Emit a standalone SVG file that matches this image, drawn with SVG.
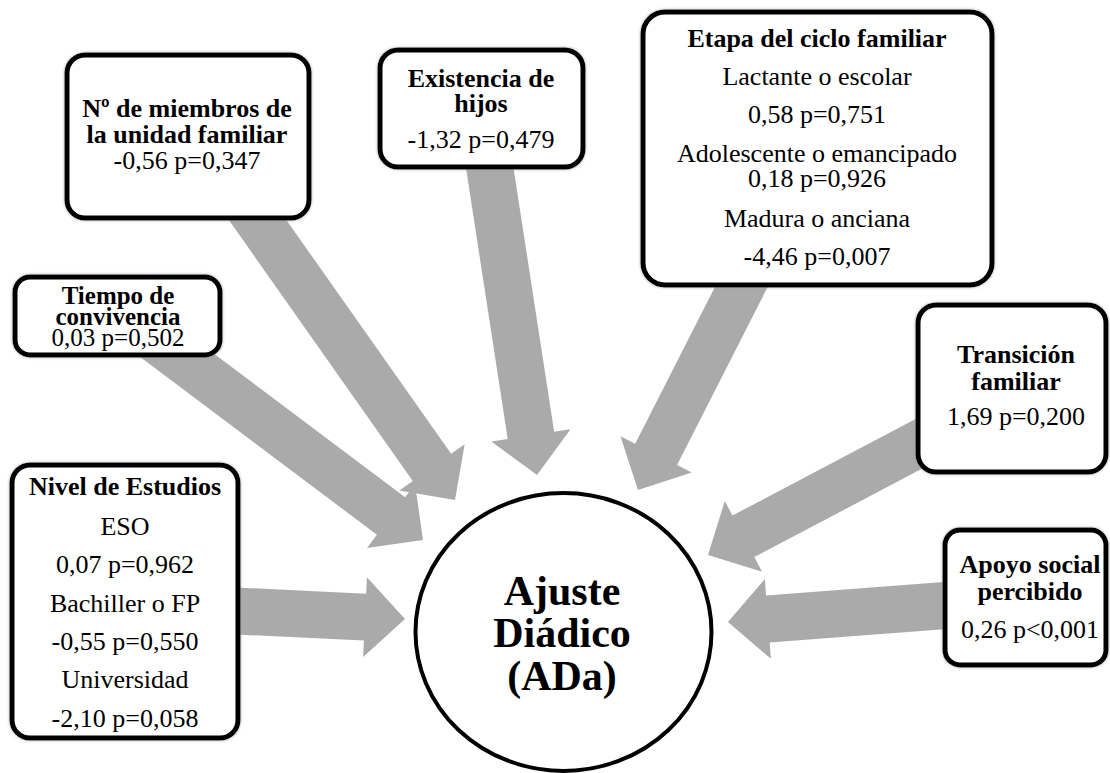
<svg xmlns="http://www.w3.org/2000/svg" width="1110" height="773" viewBox="0 0 1110 773">
<style>
.arrow{fill:#aaaaaa;stroke:none}
.box{fill:#ffffff;stroke:#000000;stroke-width:5;filter:url(#glow)}
.t{font-family:"Liberation Serif","Times New Roman",serif;font-size:26px;fill:#000;text-anchor:middle}
.s{font-size:25px}
.b{font-weight:bold}
.c{font-family:"Liberation Serif","Times New Roman",serif;font-size:42px;font-weight:bold;fill:#000;text-anchor:middle}
</style>
<defs>
<filter id="glow" x="-10%" y="-10%" width="120%" height="120%">
<feDropShadow dx="0" dy="0" stdDeviation="1.5" flood-color="#9a9a9a" flood-opacity="0.8"/>
</filter>
</defs>
<rect width="1110" height="773" fill="#ffffff"/>
<g id="connectors">
<polygon class="arrow" transform="translate(240,195) rotate(54.82)" points="0,-23.5 333.2,-23.5 333.2,-40 373.2,0 333.2,40 333.2,23.5 0,23.5"/>
<polygon class="arrow" transform="translate(130,320) rotate(36.9)" points="0,-23.5 326.4,-23.5 326.4,-40 366.4,0 326.4,40 326.4,23.5 0,23.5"/>
<polygon class="arrow" transform="translate(487,150) rotate(81.25)" points="0,-23.5 288.8,-23.5 288.8,-40 328.8,0 288.8,40 288.8,23.5 0,23.5"/>
<polygon class="arrow" transform="translate(755,260) rotate(116.96)" points="0,-23.5 218.1,-23.5 218.1,-40 258.1,0 218.1,40 218.1,23.5 0,23.5"/>
<polygon class="arrow" transform="translate(945,430) rotate(152.19)" points="0,-23.5 227.9,-23.5 227.9,-40 267.9,0 227.9,40 227.9,23.5 0,23.5"/>
<polygon class="arrow" transform="translate(965,604) rotate(175.66)" points="0,-23.5 197.7,-23.5 197.7,-40 237.7,0 197.7,40 197.7,23.5 0,23.5"/>
<polygon class="arrow" transform="translate(215,610) rotate(2.71)" points="0,-23.5 150.2,-23.5 150.2,-40 190.2,0 150.2,40 150.2,23.5 0,23.5"/>
</g>
<g id="node-miembros">
<rect class="box" x="67" y="55" width="242" height="163" rx="18"/>
<text class="t b" x="187" y="117">Nº de miembros de</text>
<text class="t b" x="187" y="143">la unidad familiar</text>
<text class="t" x="187" y="169">-0,56 p=0,347</text>
</g>
<g id="node-hijos">
<rect class="box" x="380" y="50" width="203" height="117" rx="18"/>
<text class="t b" x="481" y="87">Existencia de</text>
<text class="t b" x="481" y="112">hijos</text>
<text class="t" x="481" y="148">-1,32 p=0,479</text>
</g>
<g id="node-etapa">
<rect class="box" x="643" y="12" width="349" height="273" rx="22"/>
<text class="t b" x="817" y="47">Etapa del ciclo familiar</text>
<text class="t" x="817" y="85">Lactante o escolar</text>
<text class="t" x="817" y="123">0,58 p=0,751</text>
<text class="t" x="817" y="162">Adolescente o emancipado</text>
<text class="t" x="817" y="187">0,18 p=0,926</text>
<text class="t" x="817" y="227">Madura o anciana</text>
<text class="t" x="817" y="265">-4,46 p=0,007</text>
</g>
<g id="node-tiempo">
<rect class="box" x="15" y="277" width="205" height="78" rx="15"/>
<text class="t s b" x="118" y="304">Tiempo de</text>
<text class="t s b" x="118" y="325">convivencia</text>
<text class="t s" x="118" y="346">0,03 p=0,502</text>
</g>
<g id="node-transicion">
<rect class="box" x="918" y="305" width="188" height="167" rx="18"/>
<text class="t b" x="1016" y="363">Transición</text>
<text class="t b" x="1016" y="390">familiar</text>
<text class="t" x="1016" y="425">1,69 p=0,200</text>
</g>
<g id="node-apoyo">
<rect class="box" x="945" y="530" width="161" height="135" rx="15"/>
<text class="t b" x="1030" y="573">Apoyo social</text>
<text class="t b" x="1030" y="600">percibido</text>
<text class="t" x="1030" y="638">0,26 p&lt;0,001</text>
</g>
<g id="node-estudios">
<rect class="box" x="12" y="465" width="226" height="273" rx="18"/>
<text class="t b" x="125" y="495">Nivel de Estudios</text>
<text class="t" x="125" y="535">ESO</text>
<text class="t" x="125" y="573">0,07 p=0,962</text>
<text class="t" x="125" y="612">Bachiller o FP</text>
<text class="t" x="125" y="650">-0,55 p=0,550</text>
<text class="t" x="125" y="688">Universidad</text>
<text class="t" x="125" y="727">-2,10 p=0,058</text>
</g>
<g id="node-ada">
<ellipse cx="563.5" cy="632" rx="148" ry="139" fill="#ffffff" stroke="#000000" stroke-width="4"/>
<text class="c" x="562" y="605">Ajuste</text>
<text class="c" x="562" y="647">Diádico</text>
<text class="c" x="562" y="690">(ADa)</text>
</g>
</svg>
